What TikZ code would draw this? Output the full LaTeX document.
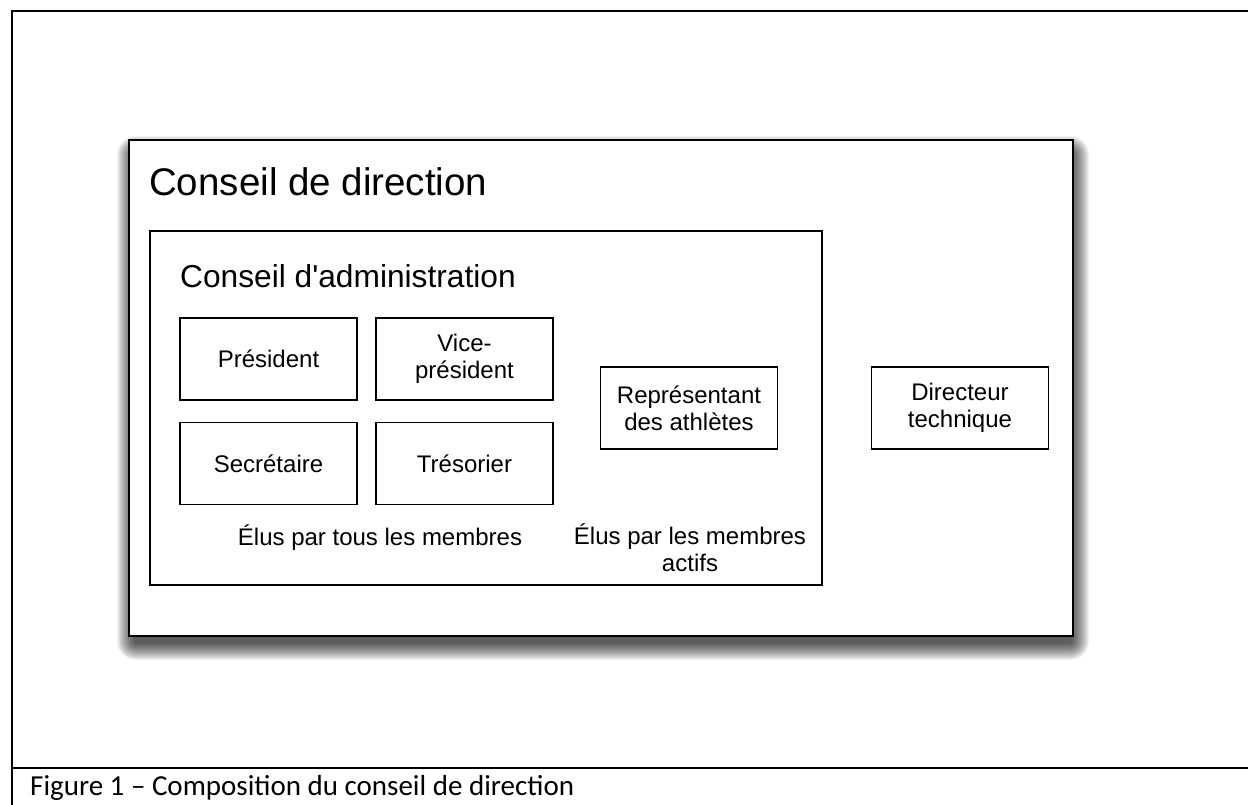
\documentclass[tikz,border=0pt]{standalone}
\usepackage{fontspec}
\setmainfont{Liberation Sans}
\newfontfamily\capfont{Carlito}
\usetikzlibrary{backgrounds}
\tikzset{
  frameline/.style={line width=2pt},
  bigbox/.style={draw, line width=2pt, fill=white, anchor=north west, inner sep=0pt},
  shadowlayer/.style={fill=black, opacity=0.05},
  midbox/.style={draw, line width=1.8pt, fill=white, anchor=north west, inner sep=0pt},
  member/.style={draw, line width=1.8pt, minimum width=177pt, minimum height=82pt, inner sep=0pt,
    align=center, font=\fontsize{24}{27}\selectfont},
  bigtitle/.style={anchor=base west, inner sep=0pt, font=\fontsize{38.5}{44}\selectfont},
  midtitle/.style={anchor=base west, inner sep=0pt, font=\fontsize{31.7}{36}\selectfont},
  note/.style={inner sep=0pt, align=center, font=\fontsize{24}{27}\selectfont},
  caption/.style={anchor=base west, inner sep=0pt, font=\capfont\fontsize{29}{34}\selectfont}
}
\begin{document}
\begin{tikzpicture}[x=1pt,y=-1pt]
\useasboundingbox (0,0) rectangle (1248,804);
\clip (0,0) rectangle (1248,804);
% outer frame
\coordinate (ftr) at (1260,11);
\coordinate (ftl) at (12,11);
\coordinate (fbl) at (12,810);
\coordinate (sl) at (12,768);
\coordinate (sr) at (1260,768);
\draw[frameline] (ftr) -- (ftl) -- (fbl);
\draw[frameline] (sl) -- (sr);
% Conseil de direction
\node[bigbox, minimum width=944pt, minimum height=496pt] (direction) at (128,139) {};
\begin{pgfonlayer}{background}
\fill[white] (0,0) rectangle (1248,804);
\foreach \r in {-4,-3,...,13}{
  \fill[shadowlayer, rounded corners={(\r+6)*1pt}]
    ([xshift={(2-\r)*1pt}, yshift={(\r-10)*1pt}]direction.north west) rectangle
    ([xshift={(2+\r)*1pt}, yshift={(-10-\r)*1pt}]direction.south east);
}
\end{pgfonlayer}
\node[bigtitle] (dirtitle) at (149,195) {Conseil de direction};
% Conseil d'administration
\node[midbox, minimum width=672pt, minimum height=354pt] (admin) at (149,230) {};
\node[midtitle] (admtitle) at (180,287) {Conseil d\textquotesingle administration};
% members
\node[member] (pres) at (268.5,359) {Président};
\node[member] (vice) at (464.5,359) {Vice-\\président};
\node[member] (secr) at (268.5,463.5) {Secrétaire};
\node[member] (tres) at (464.5,463.5) {Trésorier};
\node[member] (repr) at (689,408) {Représentant\\des athlètes};
\node[member] (dtech) at (960,408) {Directeur\\technique};
% notes
\node[note, anchor=base] (elus1) at (380,545) {Élus par tous les membres};
\node[note, anchor=north] (elus2) at (690,523) {Élus par les membres\\actifs};
% caption
\node[caption] (cap) at (30,795) {Figure 1 – Composition du conseil de direction};
\end{tikzpicture}
\end{document}
